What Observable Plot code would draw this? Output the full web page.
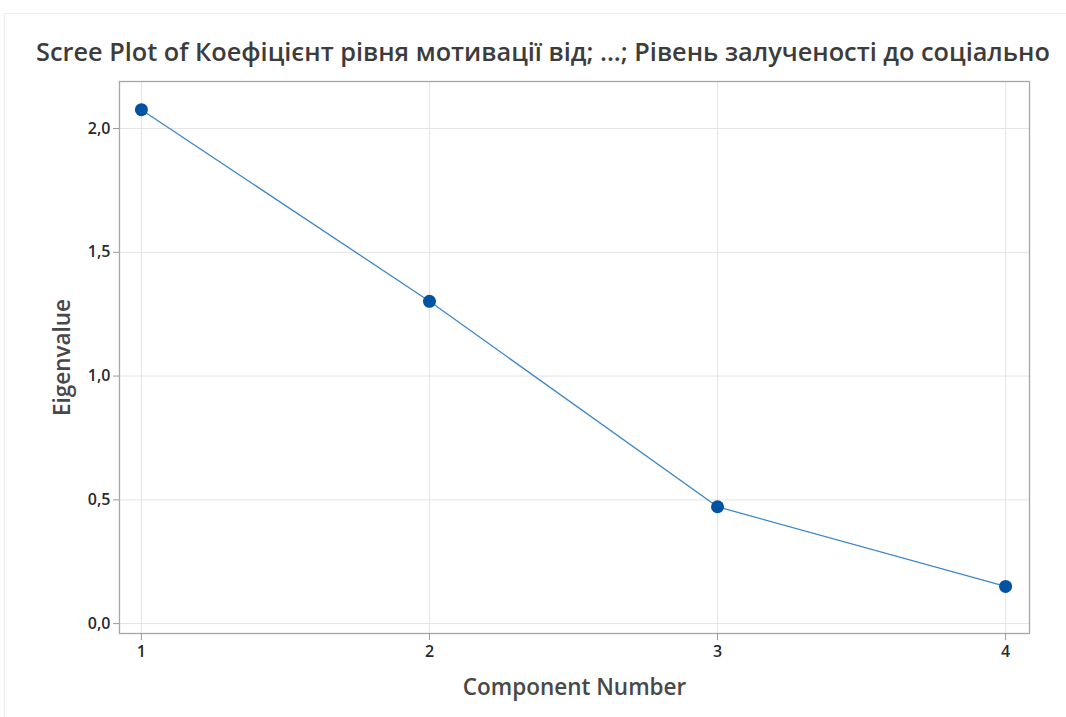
<!DOCTYPE html>
<html>
<head>
<meta charset="utf-8">
<script src="https://cdn.jsdelivr.net/npm/d3@7"></script>
<script src="https://cdn.jsdelivr.net/npm/@observablehq/plot@0.6"></script>
<style>
  html, body { margin: 0; padding: 0; background: #fff; }
  #wrap { position: relative; width: 1066px; height: 717px; overflow: hidden; }
  #panel { position: absolute; left: 4px; top: 13px; width: 1070px; height: 720px;
           border-left: 1px solid #ececec; border-top: 1px solid #ececec; }
  #title { position: absolute; left: 36px; top: 34px; white-space: nowrap;
           font-family: "Open Sans", sans-serif; font-weight: 600; font-size: 22px; color: #3c3c3c; }
  #chart { position: absolute; left: 0; top: 70px; }
  #chart svg { font-family: "Open Sans", sans-serif; }
</style>
</head>
<body>
<div id="wrap">
  <div id="panel"></div>
  <div id="title">Scree Plot of Коефіцієнт рівня мотивації від; ...; Рівень залученості до соціально</div>
  <div id="chart"></div>
</div>
<script>
// Eigenvalues per principal component
const components = [1, 2, 3, 4];
const eigenvalues = [2.076, 1.302, 0.472, 0.150];
const yTicks = [0, 0.5, 1.0, 1.5, 2.0];

const data = components.map((c, i) => ({component: c, eigenvalue: eigenvalues[i]}));
const comma = d => d3.format(".1f")(d).replace(".", ",");

const chart = Plot.plot({
  width: 1066,
  height: 647,
  marginLeft: 119,
  marginRight: 37,
  marginTop: 11,
  marginBottom: 84,
  x: {domain: [0.924, 4.083]},
  y: {domain: [-0.04, 2.19]},
  style: {fontSize: "16px", color: "#333", background: "transparent"},
  marks: [
    Plot.gridY(yTicks, {stroke: "#e4e4e4", strokeOpacity: 1}),
    Plot.gridX(components, {stroke: "#e4e4e4", strokeOpacity: 1}),
    Plot.frame({stroke: "#a6a6a6", strokeWidth: 1.3}),
    Plot.axisY(yTicks, {tickFormat: comma, tickSize: 6, tickPadding: 3, stroke: "#999",
      fontSize: 16, fontWeight: 600, fill: "#2a2a2a", label: null}),
    Plot.axisX(components, {tickFormat: d3.format("d"), tickSize: 7, tickPadding: 5, stroke: "#999",
      fontSize: 16, fontWeight: 600, fill: "#2a2a2a", label: null}),
    Plot.text(["Eigenvalue"], {frameAnchor: "left", textAnchor: "middle", dx: -57, rotate: -90,
      fontSize: 22.5, fill: "#484848", fontWeight: 600}),
    Plot.text(["Component Number"], {frameAnchor: "bottom", dy: 61, fontSize: 22.5,
      fill: "#484848", fontWeight: 600}),
    Plot.line(data, {x: "component", y: "eigenvalue", stroke: "#3d86c9", strokeWidth: 1.3}),
    Plot.dot(data, {x: "component", y: "eigenvalue", r: 6.5, fill: "#0052a3", stroke: "none"})
  ]
});
document.getElementById("chart").appendChild(chart);

// fit the title across the panel width
const title = document.getElementById("title");
const target = 1014;
const w = title.getBoundingClientRect().width;
title.style.fontSize = (22 * target / w).toFixed(2) + "px";
</script>
</body>
</html>
